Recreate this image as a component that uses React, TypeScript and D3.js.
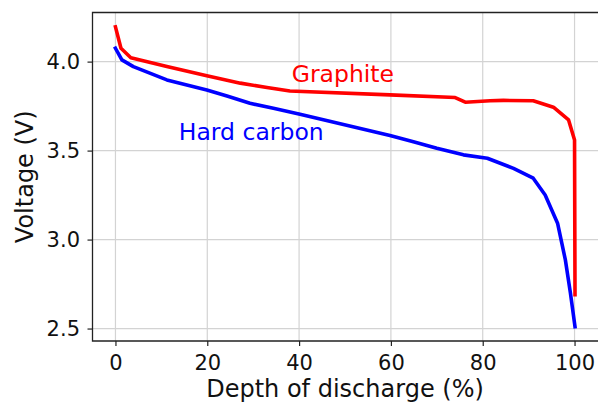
import React, { useEffect, useRef } from "react";
import * as d3 from "d3";

// Graphite curve (depth of discharge %, voltage V)
const graphiteX = [0, 1.2, 3.35, 11.2, 19.9, 27.2, 33, 38, 59.8, 74, 76.2, 81.6, 84.5, 91, 95.4, 98.7, 100, 100.1];
const graphiteY = [4.195, 4.075, 4.022, 3.972, 3.92, 3.879, 3.854, 3.835, 3.813, 3.798, 3.772, 3.78, 3.782, 3.78, 3.744, 3.672, 3.56, 2.69];

// Hard carbon curve
const hardCarbonX = [0, 1.4, 3.9, 11.2, 19.9, 24.3, 29.3, 34.4, 40.2, 59.8, 64.9, 70, 75.8, 81, 86.7, 91, 93.6, 96.3, 98, 99.1, 100.1];
const hardCarbonY = [4.075, 4.01, 3.972, 3.897, 3.841, 3.807, 3.766, 3.738, 3.704, 3.585, 3.55, 3.513, 3.476, 3.457, 3.4, 3.345, 3.25, 3.092, 2.886, 2.7, 2.51];

const xTicks = [0, 20, 40, 60, 80, 100];
const yTicks = [2.5, 3.0, 3.5, 4.0];

const FONT = "DejaVu Sans";

export default function App() {
  const ref = useRef<SVGSVGElement>(null);

  useEffect(() => {
    const svg = d3.select(ref.current);
    svg.selectAll("*").remove();

    const left = 92.5,
      right = 597.5,
      top = 12.5,
      bottom = 341;

    const x = d3.scaleLinear().domain([-5, 105]).range([left, right]);
    const y = d3.scaleLinear().domain([2.43, 4.276]).range([bottom, top]);

    // grid
    const grid = svg.append("g");
    grid
      .selectAll(".gx")
      .data(xTicks)
      .enter()
      .append("line")
      .attr("x1", (d) => x(d))
      .attr("x2", (d) => x(d))
      .attr("y1", top)
      .attr("y2", bottom)
      .attr("stroke", "#d3d3d3")
      .attr("stroke-width", 1.2);
    grid
      .selectAll(".gy")
      .data(yTicks)
      .enter()
      .append("line")
      .attr("x1", left)
      .attr("x2", right + 2)
      .attr("y1", (d) => y(d))
      .attr("y2", (d) => y(d))
      .attr("stroke", "#d3d3d3")
      .attr("stroke-width", 1.2);

    const line = d3
      .line<[number, number]>()
      .x((d) => x(d[0]))
      .y((d) => y(d[1]));

    const graphite = graphiteX.map((v, i) => [v, graphiteY[i]] as [number, number]);
    const hardCarbon = hardCarbonX.map((v, i) => [v, hardCarbonY[i]] as [number, number]);

    svg
      .append("path")
      .attr("d", line(graphite))
      .attr("fill", "none")
      .attr("stroke", "#ff0000")
      .attr("stroke-width", 3.6)
      .attr("stroke-linejoin", "round")
      .attr("stroke-linecap", "square");

    svg
      .append("path")
      .attr("d", line(hardCarbon))
      .attr("fill", "none")
      .attr("stroke", "#0000ff")
      .attr("stroke-width", 3.6)
      .attr("stroke-linejoin", "round")
      .attr("stroke-linecap", "square");

    // spines (right one falls just outside the picture)
    svg
      .append("path")
      .attr("d", "M" + (right + 3) + "," + top + "H" + left + "V" + bottom + "H" + (right + 3))
      .attr("fill", "none")
      .attr("stroke", "#222")
      .attr("stroke-width", 1.3);

    const xAxis = svg
      .append("g")
      .attr("transform", "translate(0," + bottom + ")")
      .call(d3.axisBottom(x).tickValues(xTicks).tickSize(5).tickPadding(9).tickFormat(d3.format("d")));
    const yAxis = svg
      .append("g")
      .attr("transform", "translate(" + left + ",0)")
      .call(d3.axisLeft(y).tickValues(yTicks).tickSize(5).tickPadding(7.5).tickFormat(d3.format(".1f")));

    [xAxis, yAxis].forEach((a) => {
      a.select(".domain").remove();
      a.selectAll("line").attr("stroke", "#222").attr("stroke-width", 1.2);
      a.selectAll("text").attr("fill", "#111").style("font-family", FONT).style("font-size", "21px");
    });

    svg
      .append("text")
      .attr("x", (left + right) / 2)
      .attr("y", 397)
      .attr("text-anchor", "middle")
      .style("font-family", FONT)
      .style("font-size", "24px")
      .attr("fill", "#111")
      .text("Depth of discharge (%)");

    svg
      .append("text")
      .attr("transform", "translate(33," + (top + bottom) / 2 + ") rotate(-90)")
      .attr("text-anchor", "middle")
      .style("font-family", FONT)
      .style("font-size", "24px")
      .attr("fill", "#111")
      .text("Voltage (V)");

    svg
      .append("text")
      .attr("x", x(38.4))
      .attr("y", y(3.883))
      .style("font-family", FONT)
      .style("font-size", "23.5px")
      .attr("fill", "#ff0000")
      .text("Graphite");

    svg
      .append("text")
      .attr("x", x(13.8))
      .attr("y", y(3.56))
      .style("font-family", FONT)
      .style("font-size", "23.5px")
      .attr("fill", "#0000ff")
      .text("Hard carbon");
  }, []);

  return (
    <svg
      ref={ref}
      width={598}
      height={403}
      style={{ position: "absolute", left: 0, top: 0, background: "#fff" }}
    />
  );
}
